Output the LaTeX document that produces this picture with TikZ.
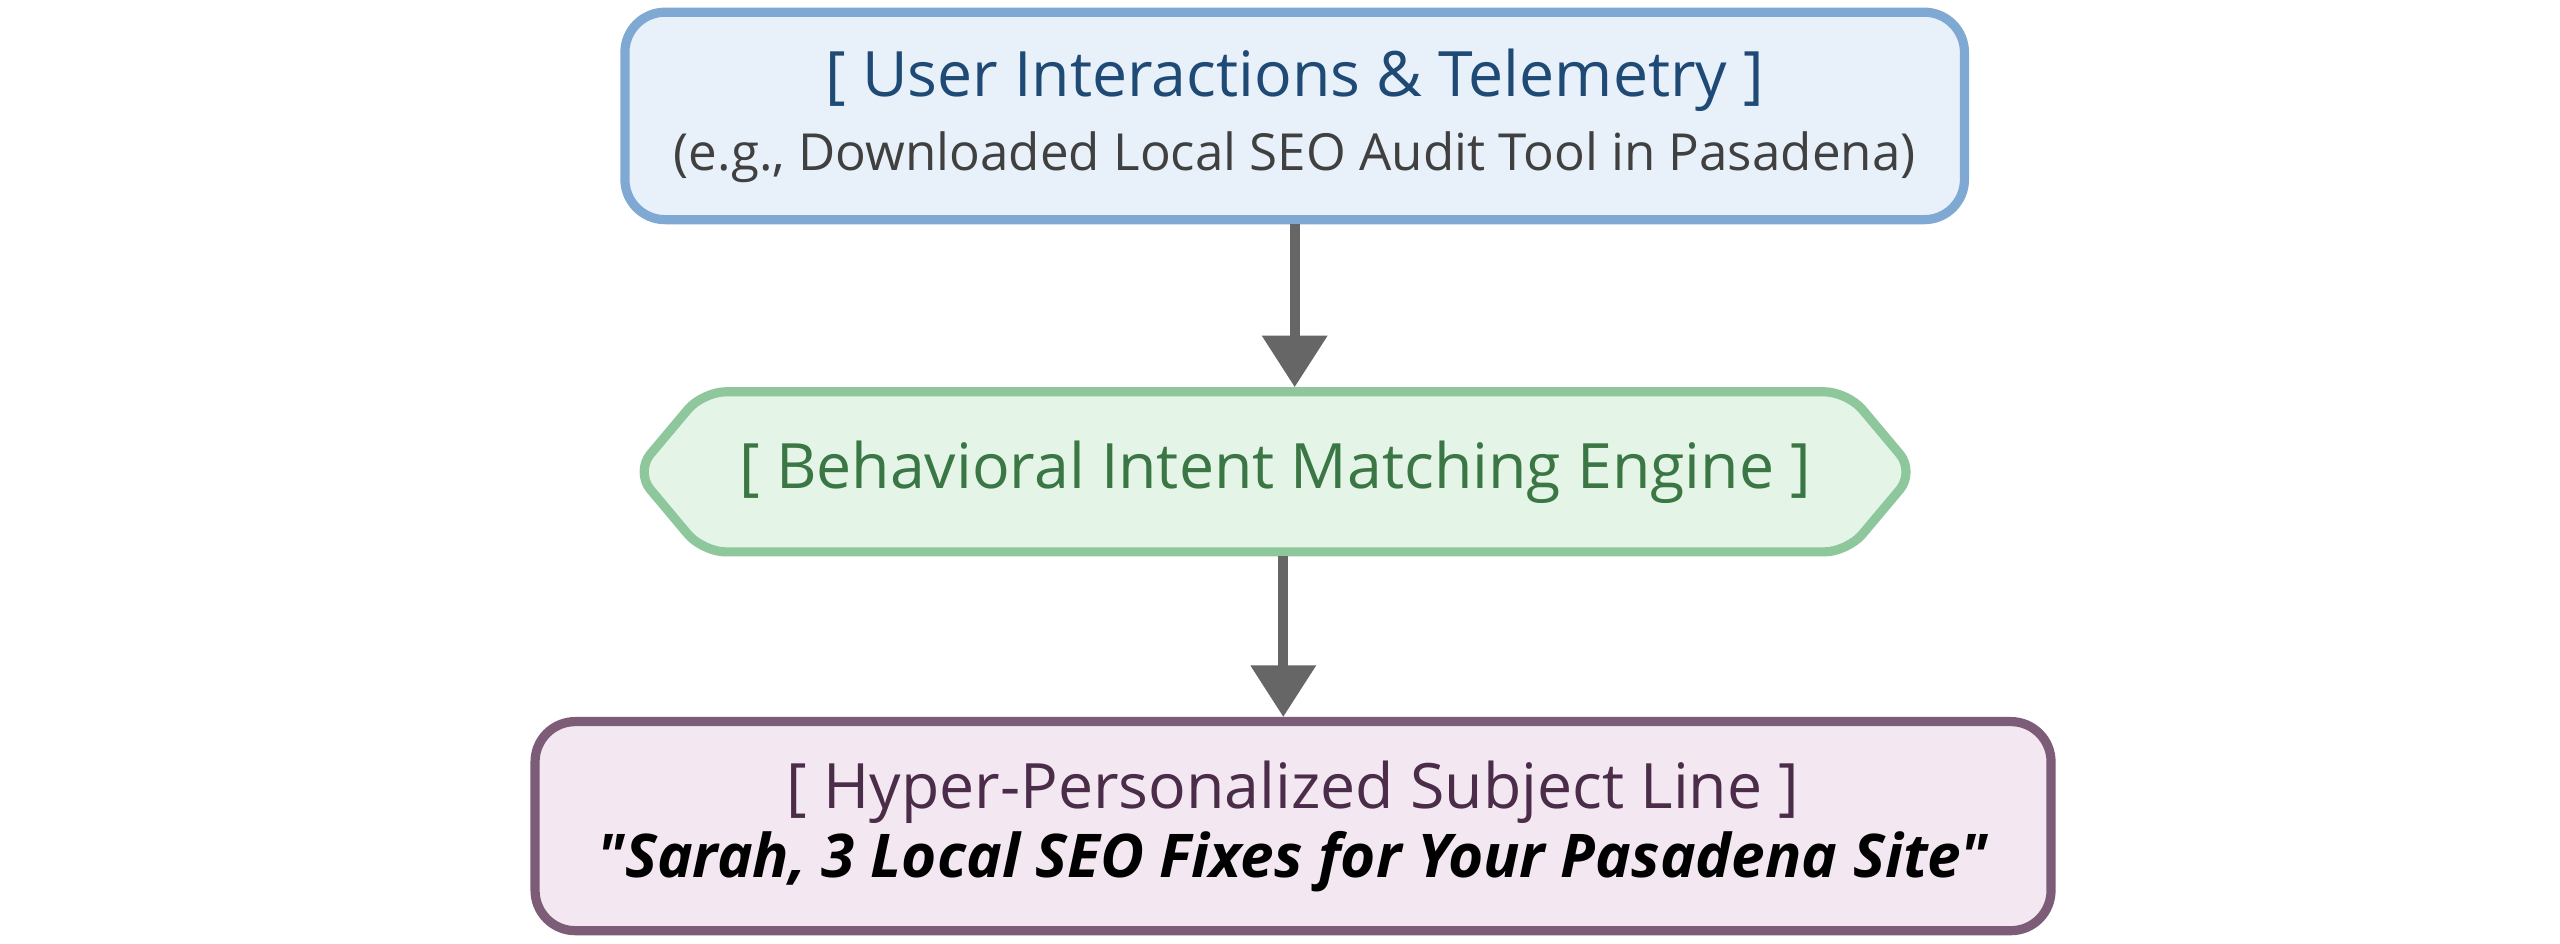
\documentclass[tikz,border=0pt]{standalone}
\usepackage{fontspec}
\setmainfont{Open Sans}[Ligatures=TeXOff]
\usetikzlibrary{shapes.symbols,arrows.meta}
\definecolor{blueFill}{HTML}{E8F1FA}
\definecolor{blueLine}{HTML}{7FA9D2}
\definecolor{blueText}{HTML}{1F4A75}
\definecolor{greenFill}{HTML}{E4F5E7}
\definecolor{greenLine}{HTML}{8DC79B}
\definecolor{greenText}{HTML}{3B7645}
\definecolor{purpFill}{HTML}{F3E8F1}
\definecolor{purpLine}{HTML}{7C5C77}
\definecolor{purpText}{HTML}{4B2C49}
\definecolor{arrowGray}{HTML}{666666}
\tikzset{
  box/.style={draw,line width=1.6pt,rounded corners=7pt,align=center,inner sep=0pt},
  link/.style={draw=arrowGray,line width=1.8pt,-{Triangle[length=9pt,width=11pt]}}
}
\begin{document}
\begin{tikzpicture}[x=0.01cm,y=-0.01cm]
\useasboundingbox[fill=white] (0,0) rectangle (1568,578);
\node[box,fill=blueFill,draw=blueLine,minimum width=8.2cm,minimum height=1.27cm] (input) at (793,71)
  {{\fontsize{10.9}{13}\selectfont\color{blueText}[ User Interactions \& Telemetry ]}\\[1pt]
   {\fontsize{8.9}{11}\selectfont\color{black!75}(e.g., Downloaded Local SEO Audit Tool in Pasadena)}};
\node[box,shape=signal,signal to=west and east,signal pointer angle=100,rounded corners=4pt,
  fill=greenFill,draw=greenLine,minimum width=7.83cm,minimum height=0.98cm] (engine) at (781,289)
  {\fontsize{10.9}{13}\selectfont\color{greenText}[ Behavioral Intent Matching Engine ]};
\node[box,fill=purpFill,draw=purpLine,minimum width=9.28cm,minimum height=1.28cm] (output) at (792,506)
  {{\fontsize{10.9}{13}\selectfont\color{purpText}[ Hyper-Personalized Subject Line ]}\\[0pt]
   {\fontsize{10.5}{12}\selectfont\bfseries\itshape "Sarah, 3 Local SEO Fixes for Your Pasadena Site"}};
\draw[link] (input.south) -- (input.south |- engine.north);
\draw[link] ([xshift=0.05cm]engine.south) -- ([xshift=0.05cm]engine.south |- output.north);
\end{tikzpicture}
\end{document}
